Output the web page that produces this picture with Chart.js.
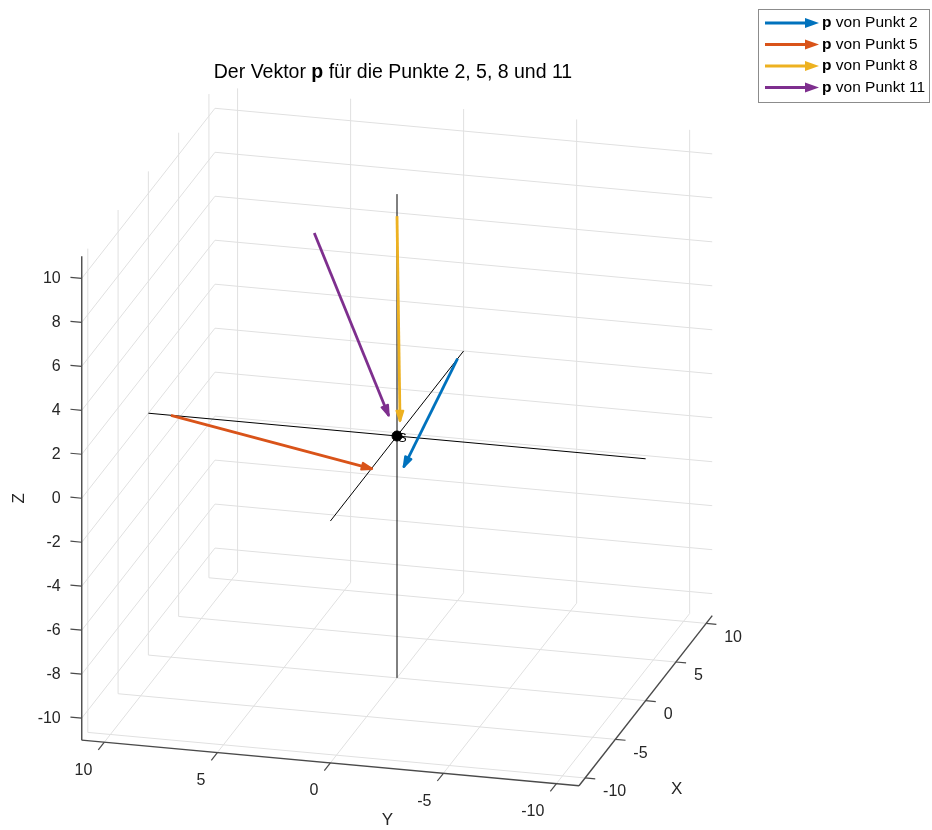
<!DOCTYPE html>
<html>
<head>
<meta charset="utf-8">
<script src="https://cdn.jsdelivr.net/npm/chart.js@4.4.1/dist/chart.umd.min.js"></script>
<style>
  html, body { margin: 0; padding: 0; background: #ffffff; }
  canvas { display: block; }
</style>
</head>
<body>
<canvas id="chart" width="932" height="830"></canvas>
<script>
// ---- axis ticks and limits ----
const xTicks = [-10, -5, 0, 5, 10];
const yTicks = [-10, -5, 0, 5, 10];
const zTicks = [-10, -8, -6, -4, -2, 0, 2, 4, 6, 8, 10];
const axisMin = -11;
const axisMax = 11;

// ---- vectors p: start point and components for each point ----
const seriesNames = ['Punkt 2', 'Punkt 5', 'Punkt 8', 'Punkt 11'];
const startX = [10, 0, 0, 5];
const startY = [0, 10, 0, 5];
const startZ = [0, 0, 10, 7];
const vecU = [-8.9, 0, 0.5, -4.5];
const vecV = [0, -8.9, 0, -4.5];
const vecW = [-1.8, -1.6, -9.5, -6.3];

// centre point S
const centreX = 0, centreY = 0, centreZ = 0;
const centreLabel = 'S';

// ---- styling ----
const seriesColors = ['#0072BD', '#D95319', '#EDB120', '#7E2F8E'];
const gridColor = '#e0e0e0';
const axisColor = '#4a4a4a';
const textColor = '#262626';
const FONT = "'Liberation Sans', Arial, Helvetica, sans-serif";

// ---- view (azimuth / elevation, orthographic) ----
const W = 932, H = 830;
const PX_PER_UNIT = 23.4;
const ORIGIN_PX = { x: 397, y: 436 };
const az = -75 * Math.PI / 180;
const el = 20 * Math.PI / 180;

function proj(X, Y, Z) {
  return {
    x: Math.cos(az) * X + Math.sin(az) * Y,
    y: -Math.sin(az) * Math.sin(el) * X + Math.cos(az) * Math.sin(el) * Y + Math.cos(el) * Z
  };
}

function seg(a, b, color, width, order, extra) {
  return Object.assign({
    data: [proj(a[0], a[1], a[2]), proj(b[0], b[1], b[2])],
    showLine: true,
    borderColor: color,
    borderWidth: width,
    pointRadius: 0,
    pointHoverRadius: 0,
    fill: false,
    tension: 0,
    order: order,
    clip: false
  }, extra || {});
}

const datasets = [];

// grid on the back wall (X = max)
yTicks.forEach(y => datasets.push(seg([axisMax, y, axisMin], [axisMax, y, axisMax], gridColor, 1, 50)));
zTicks.forEach(z => datasets.push(seg([axisMax, axisMin, z], [axisMax, axisMax, z], gridColor, 1, 50)));
// grid on the side wall (Y = max)
xTicks.forEach(x => datasets.push(seg([x, axisMax, axisMin], [x, axisMax, axisMax], gridColor, 1, 50)));
zTicks.forEach(z => datasets.push(seg([axisMin, axisMax, z], [axisMax, axisMax, z], gridColor, 1, 50)));
// grid on the floor (Z = min)
xTicks.forEach(x => datasets.push(seg([x, axisMin, axisMin], [x, axisMax, axisMin], gridColor, 1, 50)));
yTicks.forEach(y => datasets.push(seg([axisMin, y, axisMin], [axisMax, y, axisMin], gridColor, 1, 50)));

// axis lines
datasets.push(seg([axisMin, axisMax, axisMin], [axisMin, axisMax, axisMax], axisColor, 1.4, 40));
datasets.push(seg([axisMin, axisMax, axisMin], [axisMin, axisMin, axisMin], axisColor, 1.4, 40));
datasets.push(seg([axisMin, axisMin, axisMin], [axisMax, axisMin, axisMin], axisColor, 1.4, 40));
// tick marks
zTicks.forEach(z => datasets.push(seg([axisMin, axisMax, z], [axisMin, axisMax + 0.5, z], axisColor, 1.2, 40)));
yTicks.forEach(y => datasets.push(seg([axisMin, y, axisMin], [axisMin - 1, y, axisMin], axisColor, 1.2, 40)));
xTicks.forEach(x => datasets.push(seg([x, axisMin, axisMin], [x, axisMin - 0.45, axisMin], axisColor, 1.2, 40)));

// coordinate lines through the centre
datasets.push(seg([axisMin, 0, 0], [axisMax, 0, 0], '#000000', 1, 30));
datasets.push(seg([0, axisMin, 0], [0, axisMax, 0], '#000000', 1, 30));
datasets.push(seg([0, 0, axisMin], [0, 0, axisMax], '#000000', 1, 30));

// the four vectors p
seriesNames.forEach((name, i) => {
  datasets.push(seg(
    [startX[i], startY[i], startZ[i]],
    [startX[i] + vecU[i], startY[i] + vecV[i], startZ[i] + vecW[i]],
    seriesColors[i], 2.8, 10,
    { label: 'p von ' + name, isArrow: true }
  ));
});

// centre point
datasets.push({
  data: [proj(centreX, centreY, centreZ)],
  showLine: false,
  pointRadius: 5,
  pointBackgroundColor: '#000000',
  pointBorderColor: '#000000',
  pointBorderWidth: 1,
  order: 1,
  clip: false
});

function drawMixed(ctx, parts, x, y, size, align) {
  let total = 0;
  parts.forEach(p => {
    ctx.font = (p.b ? 'bold ' : '') + size + 'px ' + FONT;
    p.w = ctx.measureText(p.t).width;
    total += p.w;
  });
  let cx = align === 'center' ? x - total / 2 : x;
  ctx.textAlign = 'left';
  parts.forEach(p => {
    ctx.font = (p.b ? 'bold ' : '') + size + 'px ' + FONT;
    ctx.fillText(p.t, cx, y);
    cx += p.w;
  });
}

const annotate = {
  id: 'annotate3d',
  afterDatasetsDraw(chart) {
    const ctx = chart.ctx;
    // arrow heads at the end of each vector
    chart.data.datasets.forEach((ds, i) => {
      if (!ds.isArrow) return;
      const meta = chart.getDatasetMeta(i);
      const a = meta.data[0], b = meta.data[1];
      const ang = Math.atan2(b.y - a.y, b.x - a.x);
      const len = 11, spread = 0.32;
      ctx.save();
      ctx.strokeStyle = ds.borderColor;
      ctx.fillStyle = ds.borderColor;
      ctx.lineWidth = 2;
      ctx.lineJoin = 'round';
      ctx.beginPath();
      ctx.moveTo(b.x - len * Math.cos(ang - spread), b.y - len * Math.sin(ang - spread));
      ctx.lineTo(b.x, b.y);
      ctx.lineTo(b.x - len * Math.cos(ang + spread), b.y - len * Math.sin(ang + spread));
      ctx.closePath();
      ctx.fill();
      ctx.stroke();
      ctx.restore();
    });
  },
  afterDraw(chart) {
    const ctx = chart.ctx;
    const sx = chart.scales.x, sy = chart.scales.y;
    const px = (X, Y, Z) => {
      const p = proj(X, Y, Z);
      return { x: sx.getPixelForValue(p.x), y: sy.getPixelForValue(p.y) };
    };
    ctx.save();
    ctx.fillStyle = textColor;
    ctx.font = '16px ' + FONT;

    // Z tick labels
    ctx.textAlign = 'right';
    ctx.textBaseline = 'middle';
    zTicks.forEach(z => {
      const p = px(axisMin, axisMax, z);
      ctx.fillText(String(z), p.x - 21, p.y);
    });
    // Y tick labels
    yTicks.forEach(y => {
      const p = px(axisMin, y, axisMin);
      ctx.fillText(String(y), p.x - 12, p.y + 28);
    });
    // X tick labels
    ctx.textAlign = 'left';
    xTicks.forEach(x => {
      const p = px(x, axisMin, axisMin);
      ctx.fillText(String(x), p.x + 18, p.y + 14);
    });

    // axis titles
    ctx.font = '17px ' + FONT;
    ctx.textAlign = 'center';
    const ym = px(axisMin, 0, axisMin);
    ctx.fillText('Y', ym.x + 57, ym.y + 57);
    const xm = px(0, axisMin, axisMin);
    ctx.fillText('X', xm.x + 31, xm.y + 89);
    const zm = px(axisMin, axisMax, 0);
    ctx.save();
    ctx.translate(zm.x - 62, zm.y);
    ctx.rotate(-Math.PI / 2);
    ctx.fillText('Z', 0, 0);
    ctx.restore();

    // centre label
    const c = px(centreX, centreY, centreZ);
    ctx.fillStyle = '#000000';
    ctx.font = '13px ' + FONT;
    ctx.textAlign = 'left';
    ctx.fillText(centreLabel, c.x + 1, c.y + 2);

    // title
    ctx.fillStyle = '#000000';
    ctx.textBaseline = 'middle';
    drawMixed(ctx, [
      { t: 'Der Vektor ', b: false },
      { t: 'p', b: true },
      { t: ' für die Punkte 2, 5, 8 und 11', b: false }
    ], 393, 73, 19.5, 'center');

    // legend
    const lx = 758.5, ly = 9.5, lw = 171, lh = 93;
    ctx.fillStyle = '#ffffff';
    ctx.fillRect(lx, ly, lw, lh);
    ctx.strokeStyle = '#8c8c8c';
    ctx.lineWidth = 1;
    ctx.strokeRect(lx, ly, lw, lh);
    seriesNames.forEach((name, i) => {
      const ry = 23 + i * 21.5;
      ctx.strokeStyle = seriesColors[i];
      ctx.fillStyle = seriesColors[i];
      ctx.lineWidth = 3.2;
      ctx.beginPath();
      ctx.moveTo(765, ry);
      ctx.lineTo(808, ry);
      ctx.stroke();
      ctx.beginPath();
      ctx.moveTo(819, ry);
      ctx.lineTo(805, ry - 5);
      ctx.lineTo(805, ry + 5);
      ctx.closePath();
      ctx.fill();
      ctx.fillStyle = '#000000';
      drawMixed(ctx, [{ t: 'p', b: true }, { t: ' von ' + name, b: false }], 822, ry, 15.5, 'left');
    });
    ctx.restore();
  }
};

new Chart(document.getElementById('chart'), {
  type: 'scatter',
  data: { datasets: datasets },
  options: {
    responsive: false,
    devicePixelRatio: 1,
    animation: false,
    events: [],
    layout: { padding: 0, autoPadding: false },
    plugins: { legend: { display: false }, tooltip: { enabled: false }, title: { display: false } },
    scales: {
      x: { type: 'linear', display: false, min: -ORIGIN_PX.x / PX_PER_UNIT, max: (W - ORIGIN_PX.x) / PX_PER_UNIT },
      y: { type: 'linear', display: false, min: -(H - ORIGIN_PX.y) / PX_PER_UNIT, max: ORIGIN_PX.y / PX_PER_UNIT }
    }
  },
  plugins: [annotate]
});
</script>
</body>
</html>
